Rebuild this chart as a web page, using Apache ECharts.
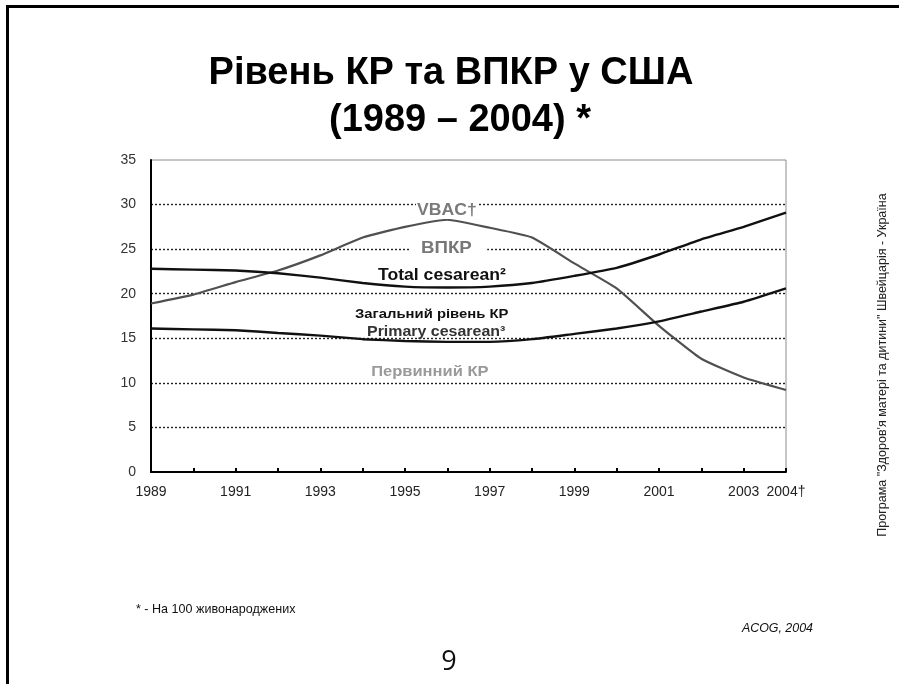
<!DOCTYPE html>
<html>
<head>
<meta charset="utf-8">
<title>Рівень КР та ВПКР у США</title>
<script src="https://cdn.jsdelivr.net/npm/echarts@6/dist/echarts.min.js"></script>
<style>
    html, body {
        margin: 0;
        padding: 0;
        background: #fff;
    }
    .slide {
        position: absolute;
        left: 6px;
        top: 5px;
        width: 893px;
        height: 679px;
        border-left: 3px solid #000;
        border-top: 3px solid #000;
        box-sizing: border-box;
    }
    #chart {
        position: absolute;
        left: 0;
        top: 0;
        width: 899px;
        height: 684px;
    }
</style>
</head>
<body>
<div class='slide'></div>
<div id='chart'></div>
<script>
var years = [1989, 1990, 1991, 1992, 1993, 1994, 1995, 1996, 1997, 1998, 1999, 2000, 2001, 2002, 2003, 2004];
// на 100 живонароджених
var totalCesarean = [22.8, 22.7, 22.6, 22.3, 21.8, 21.2, 20.8, 20.7, 20.8, 21.2, 22.0, 22.9, 24.4, 26.1, 27.5, 29.1];
var primaryCesarean = [16.1, 16.0, 15.9, 15.6, 15.3, 14.9, 14.7, 14.6, 14.6, 14.9, 15.5, 16.1, 16.9, 18.0, 19.1, 20.6];
var vbac = [18.9, 19.9, 21.3, 22.6, 24.3, 26.3, 27.5, 28.3, 27.4, 26.3, 23.4, 20.6, 16.4, 12.7, 10.6, 9.2];
var yTicks = [0, 5, 10, 15, 20, 25, 30, 35];
var xLabelYears = [1989, 1991, 1993, 1995, 1997, 1999, 2001, 2003, 2004];
var lastYearNote = '†';

var font = "'Liberation Sans', Arial, sans-serif";

function pairs(values) {
    return years.map(function (y, i) {
        return [y, values[i]];
    });
}

function label(text, x, y, size, color, extra) {
    var el = {
        type: 'text',
        x: x,
        y: y,
        z: 10,
        scaleX: 1.1,
        style: {
            text: text,
            font: 'bold ' + size + 'px ' + font,
            fill: color,
            textAlign: 'left',
            textVerticalAlign: 'middle'
        }
    };
    if (extra) {
        for (var k in extra) el.style[k] = extra[k];
    }
    return el;
}

var myChart = echarts.init(document.getElementById('chart'));
var option = {
    animation: false,
    grid: {
        left: 151,
        right: 113,
        top: 160,
        bottom: 212,
        show: true,
        borderColor: '#8c8c8c',
        borderWidth: 1
    },
    xAxis: {
        type: 'value',
        min: years[0],
        max: years[years.length - 1],
        interval: 1,
        axisLine: { // вісь
            lineStyle: { color: '#000', width: 2 }
        },
        axisTick: {
            inside: true,
            length: 4,
            lineStyle: { color: '#000', width: 2 }
        },
        axisLabel: {
            margin: 13,
            fontSize: 14,
            fontFamily: font,
            color: '#222',
            formatter: function (v) {
                if (xLabelYears.indexOf(v) < 0) return '';
                return v === years[years.length - 1] ? v + lastYearNote : String(v);
            }
        },
        splitLine: { show: false }
    },
    yAxis: {
        type: 'value',
        min: yTicks[0],
        max: yTicks[yTicks.length - 1],
        interval: yTicks[1] - yTicks[0],
        axisLine: {
            show: true,
            lineStyle: { color: '#000', width: 2 }
        },
        axisTick: { show: false },
        axisLabel: {
            margin: 15,
            fontSize: 14,
            fontFamily: font,
            color: '#333'
        },
        splitLine: {
            show: true,
            showMinLine: false,
            showMaxLine: false,
            lineStyle: { color: '#222', type: [2, 2], width: 1.4 }
        }
    },
    series: [
        {
            name: 'VBAC',
            type: 'line',
            data: pairs(vbac),
            symbol: 'none',
            smooth: 0.15,
            lineStyle: { color: '#505050', width: 2.2 }
        },
        {
            name: 'Total cesarean',
            type: 'line',
            data: pairs(totalCesarean),
            symbol: 'none',
            smooth: 0.15,
            lineStyle: { color: '#111', width: 2.4 }
        },
        {
            name: 'Primary cesarean',
            type: 'line',
            data: pairs(primaryCesarean),
            symbol: 'none',
            smooth: 0.15,
            lineStyle: { color: '#111', width: 2.4 }
        }
    ],
    graphic: [
        {
            type: 'text', x: 451, y: 74, z: 10,
            style: {
                text: 'Рівень КР та ВПКР у США',
                font: 'bold 38px ' + font, fill: '#000',
                textAlign: 'center', textVerticalAlign: 'middle'
            }
        },
        {
            type: 'text', x: 460, y: 121, z: 10,
            style: {
                text: '(1989 – 2004) *',
                font: 'bold 38px ' + font, fill: '#000',
                textAlign: 'center', textVerticalAlign: 'middle'
            }
        },
        label('VBAC†', 416, 211, 16, '#7a7a7a', { backgroundColor: '#fff', padding: [0, 2, 0, 1] }),
        label('ВПКР', 410, 248, 17, '#777', { backgroundColor: '#fff', padding: [2, 14, 2, 10] }),
        label('Total cesarean²', 378, 276, 16, '#111'),
        label('Загальний рівень КР', 355, 314, 13.5, '#111'),
        label('Primary cesarean³', 367, 332, 14.5, '#333'),
        label('Первинний КР', 358, 372, 15, '#9a9a9a', { backgroundColor: '#fff', padding: [2, 40, 2, 12] }),
        {
            type: 'text', x: 136, y: 609, z: 10, scaleX: 0.93,
            style: {
                text: '* - На 100 живонароджених',
                font: '13.5px ' + font, fill: '#111',
                textAlign: 'left', textVerticalAlign: 'middle'
            }
        },
        {
            type: 'text', x: 813, y: 628, z: 10, scaleX: 0.92,
            style: {
                text: 'ACOG, 2004',
                font: 'italic 13.5px ' + font, fill: '#111',
                textAlign: 'right', textVerticalAlign: 'middle'
            }
        },
        {
            type: 'text', x: 449, y: 662, z: 10,
            style: {
                text: '9',
                font: "27px 'Open Sans', sans-serif", fill: '#111',
                textAlign: 'center', textVerticalAlign: 'middle'
            }
        },
        {
            type: 'text', x: 883, y: 365, z: 10, rotation: Math.PI / 2,
            style: {
                text: 'Програма "Здоров\'я матері та дитини" Швейцарія - Україна',
                font: '12.5px ' + font, fill: '#222',
                textAlign: 'center', textVerticalAlign: 'middle'
            }
        }
    ]
};
myChart.setOption(option);
</script>
</body>
</html>
